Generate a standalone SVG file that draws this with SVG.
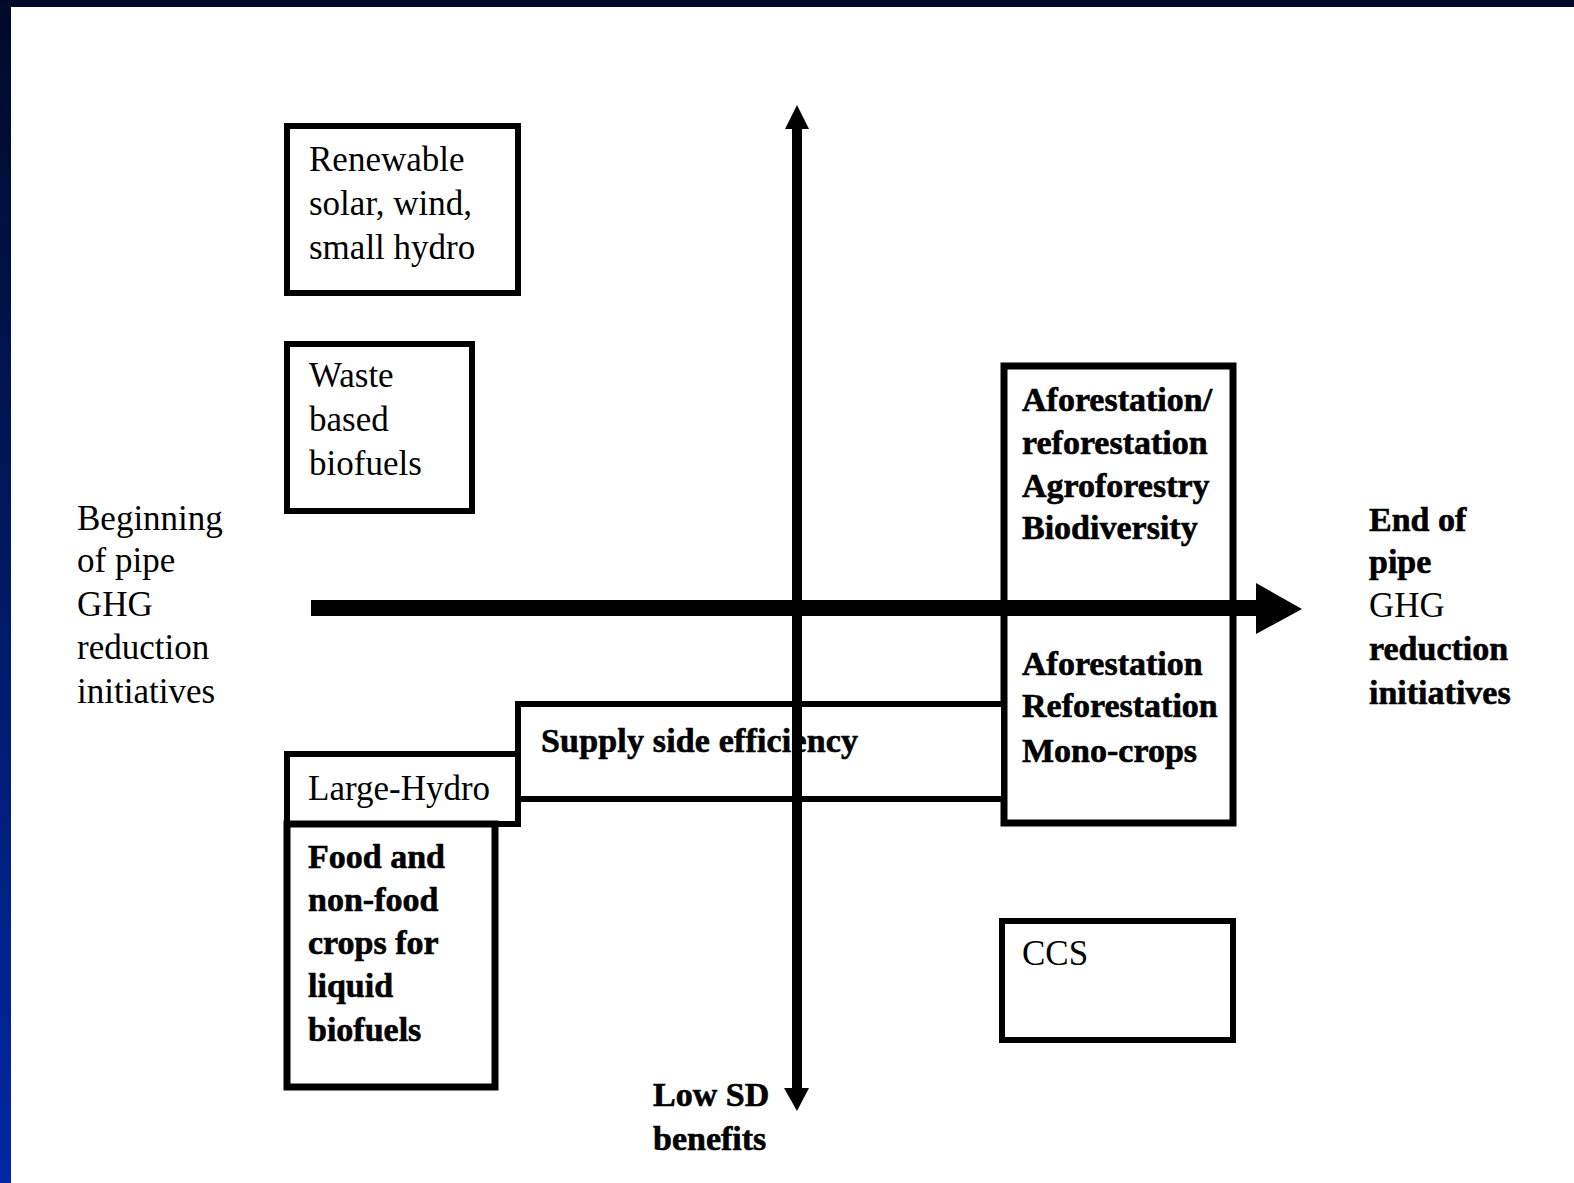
<svg xmlns="http://www.w3.org/2000/svg" width="1574" height="1183" viewBox="0 0 1574 1183">
  <defs>
    <linearGradient id="side" x1="0" y1="0" x2="0" y2="1">
      <stop offset="0" stop-color="#000a28"/>
      <stop offset="1" stop-color="#0028a3"/>
    </linearGradient>
    <style>
      .box { fill: #ffffff; stroke: #000; stroke-width: 6; }
      .thick { stroke-width: 7; }
      .t { font-family: "Liberation Serif", "Times New Roman", serif; font-size: 35px; fill: #000; }
      .b { font-family: "Liberation Serif", "Times New Roman", serif; font-size: 34px; font-weight: bold; fill: #000; stroke: #000; stroke-width: 0.6; }
      .line { stroke: #000; fill: none; }
    </style>
  </defs>
  <rect x="0" y="0" width="1574" height="1183" fill="#ffffff"/>
  <rect x="0" y="0" width="1574" height="7" fill="#000b2a"/>
  <rect x="0" y="0" width="11" height="1183" fill="url(#side)"/>

  <g id="node-renewable">
    <rect class="box" x="287" y="126" width="231" height="167"/>
    <text class="t" x="309" y="171">Renewable</text>
    <text class="t" x="309" y="215">solar, wind,</text>
    <text class="t" x="309" y="259">small hydro</text>
  </g>

  <g id="node-waste">
    <rect class="box" x="287" y="344" width="185" height="167"/>
    <text class="t" x="309" y="387">Waste</text>
    <text class="t" x="309" y="431">based</text>
    <text class="t" x="309" y="475">biofuels</text>
  </g>

  <g id="node-beginning">
    <text class="t" x="77" y="530">Beginning</text>
    <text class="t" x="77" y="572">of pipe</text>
    <text class="t" x="77" y="616">GHG</text>
    <text class="t" x="77" y="659">reduction</text>
    <text class="t" x="77" y="703">initiatives</text>
  </g>

  <g id="node-end">
    <text class="b" x="1369" y="531">End of</text>
    <text class="b" x="1369" y="573">pipe</text>
    <text class="t" x="1369" y="617">GHG</text>
    <text class="b" x="1369" y="660">reduction</text>
    <text class="b" x="1369" y="704">initiatives</text>
  </g>

  <g id="node-forest">
    <rect class="box thick" x="1004" y="366" width="229" height="457"/>
    <text class="b" x="1022" y="411">Aforestation/</text>
    <text class="b" x="1022" y="454">reforestation</text>
    <text class="b" x="1022" y="497">Agroforestry</text>
    <text class="b" x="1022" y="539">Biodiversity</text>
    <text class="b" x="1022" y="675">Aforestation</text>
    <text class="b" x="1022" y="717">Reforestation</text>
    <text class="b" x="1022" y="762">Mono-crops</text>
  </g>

  <g id="node-supply">
    <rect class="box" x="518" y="704" width="486" height="95"/>
    <text class="b" x="541" y="752" textLength="317" lengthAdjust="spacing">Supply side efficiency</text>
  </g>

  <g id="node-largehydro">
    <rect class="box" x="287" y="754" width="231" height="70"/>
    <text class="t" x="308" y="800">Large-Hydro</text>
  </g>

  <g id="node-food">
    <rect class="box thick" x="287" y="824" width="208" height="263"/>
    <text class="b" x="308" y="868">Food and</text>
    <text class="b" x="308" y="911">non-food</text>
    <text class="b" x="308" y="954">crops for</text>
    <text class="b" x="308" y="997">liquid</text>
    <text class="b" x="308" y="1041">biofuels</text>
  </g>

  <g id="node-ccs">
    <rect class="box" x="1002" y="921" width="231" height="119"/>
    <text class="t" x="1022" y="965">CCS</text>
  </g>

  <g id="node-lowsd">
    <text class="b" x="653" y="1106">Low SD</text>
    <text class="b" x="653" y="1150">benefits</text>
  </g>

  <g id="connectors">
    <line class="line" x1="797" y1="126" x2="797" y2="1090" stroke-width="10"/>
    <polygon points="797,105 785,129 809,129" fill="#000"/>
    <polygon points="784,1088 809,1088 797,1111" fill="#000"/>
    <line class="line" x1="311" y1="608" x2="1260" y2="608" stroke-width="16"/>
    <polygon points="1256,583 1302,609 1256,634" fill="#000"/>
  </g>
</svg>
